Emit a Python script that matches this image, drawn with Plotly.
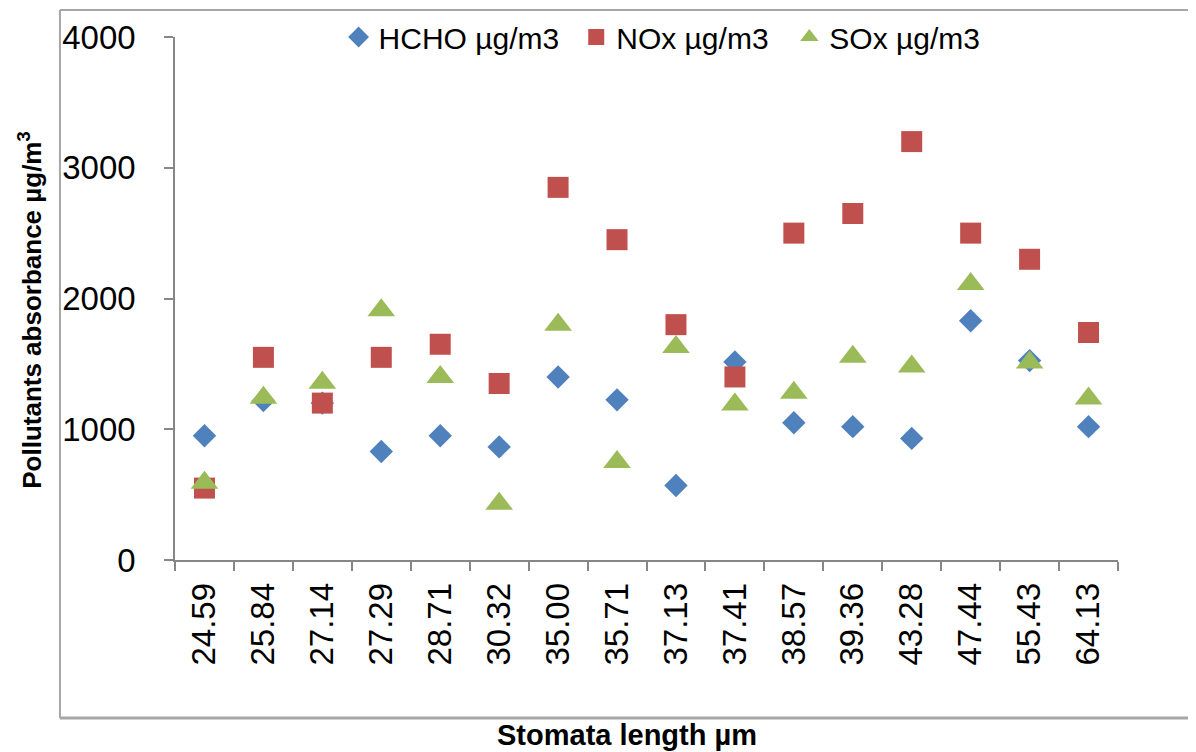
import plotly.graph_objects as go

categories = ["24.59", "25.84", "27.14", "27.29", "28.71", "30.32", "35.00", "35.71",
              "37.13", "37.41", "38.57", "39.36", "43.28", "47.44", "55.43", "64.13"]
hcho = [950, 1220, 1200, 830, 950, 865, 1400, 1225, 570, 1515, 1050, 1020, 930, 1830, 1525, 1020]
nox = [550, 1550, 1200, 1550, 1650, 1350, 2850, 2450, 1800, 1400, 2500, 2650, 3200, 2500, 2300, 1740]
sox = [590, 1240, 1355, 1910, 1400, 430, 1800, 750, 1630, 1190, 1280, 1555, 1480, 2110, 1510, 1235]

series_names = ["HCHO µg/m3", "NOx µg/m3", "SOx µg/m3"]
y_ticks = [0, 1000, 2000, 3000, 4000]

fig = go.Figure()
fig.add_trace(go.Scatter(x=categories, y=hcho, mode="markers", name=series_names[0], legend="legend",
                         marker=dict(symbol="diamond", size=18, color="#4F81BD", line=dict(width=0))))
fig.add_trace(go.Scatter(x=categories, y=nox, mode="markers", name=series_names[1], legend="legend2",
                         marker=dict(symbol="square", size=21, color="#C0504D", line=dict(width=0))))
fig.add_trace(go.Scatter(x=categories, y=sox, mode="markers", name=series_names[2], legend="legend3",
                         marker=dict(symbol="triangle-up", size=24, color="#9BBB59", line=dict(width=0))))

axis_col = "#868686"
border_col = "#A6A6A6"

def leg(xpos):
    return dict(orientation="h", x=xpos, y=1.0, xanchor="left", yanchor="middle",
                font=dict(size=30), itemwidth=30, bgcolor="rgba(0,0,0,0)", borderwidth=0)

fig.update_layout(
    width=1196, height=752,
    margin=dict(l=167, r=86, t=29, b=200, autoexpand=False),
    paper_bgcolor="white", plot_bgcolor="white",
    font=dict(family="Liberation Sans, Arial, sans-serif", color="black"),
    showlegend=True,
    legend=leg(0.1735), legend2=leg(0.4255), legend3=leg(0.6515),
    xaxis=dict(type="category", range=[-0.5, 15.5], showgrid=False, zeroline=False,
               showline=True, linecolor=axis_col, linewidth=1.5,
               ticks="outside", ticklen=9, tickcolor=axis_col, tickwidth=1.5,
               tickson="boundaries", tickangle=-90, tickfont=dict(size=33),
               ticklabelstandoff=8, automargin=False),
    yaxis=dict(range=[0, 4000], tickvals=y_ticks, showgrid=False, zeroline=False,
               showline=True, linecolor=axis_col, linewidth=1.5,
               ticks="outside", ticklen=9, tickcolor=axis_col, tickwidth=1.5,
               tickfont=dict(size=33), ticklabelstandoff=22, automargin=False),
)

# outer chart-area border (top, left, bottom)
fig.add_shape(type="line", xref="paper", yref="paper", x0=-0.122, x1=1.2, y0=1.0516, y1=1.0516,
              line=dict(color=border_col, width=2))
fig.add_shape(type="line", xref="paper", yref="paper", x0=-0.122, x1=-0.122, y0=1.0516, y1=-0.302,
              line=dict(color=border_col, width=2))
fig.add_shape(type="line", xref="paper", yref="paper", x0=-0.122, x1=1.2, y0=-0.302, y1=-0.302,
              line=dict(color=border_col, width=3))

fig.add_annotation(text="<b>Pollutants absorbance µg/m<sup>3</sup></b>", xref="paper", yref="paper",
                   x=-0.154, y=0.478, textangle=-90, showarrow=False,
                   font=dict(size=26, family="Liberation Sans, Arial, sans-serif"),
                   xanchor="center", yanchor="middle")
fig.add_annotation(text="<b>Stomata length µm</b>", xref="paper", yref="paper",
                   x=0.479, y=-0.3346, showarrow=False,
                   font=dict(size=29, family="Liberation Sans, Arial, sans-serif"),
                   xanchor="center", yanchor="middle")

fig.write_html("out.html")
